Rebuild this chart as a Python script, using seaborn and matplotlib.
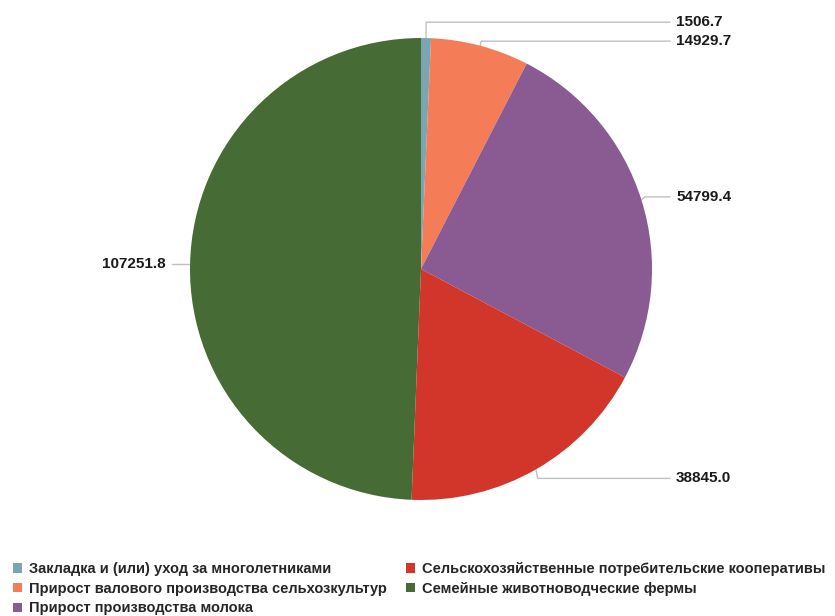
import numpy as np
import pandas as pd
import matplotlib
matplotlib.use('Agg')
import matplotlib.pyplot as plt
import seaborn as sns

categories = ['Закладка и (или) уход за многолетниками',
              'Прирост валового производства сельхозкультур',
              'Прирост производства молока',
              'Сельскохозяйственные потребительские кооперативы',
              'Семейные животноводческие фермы']
values = [1506.7, 14929.7, 54799.4, 38845.0, 107251.8]
value_labels = ['1506.7', '14929.7', '54799.4', '38845.0', '107251.8']
colors = ['#7aa6b3', '#f47c56', '#8a5a93', '#d2362b', '#476b35']

df = pd.DataFrame({'category': categories, 'value': values, 'label': value_labels})

sns.set_style('white')
plt.rcParams['font.family'] = ['Liberation Sans', 'DejaVu Sans']

fig = plt.figure(figsize=(8.35, 6.16), dpi=100)
ax = fig.add_axes([0, 0, 1, 1])

wedges, _ = ax.pie(df['value'], colors=sns.color_palette(colors), startangle=90,
                   counterclock=False, radius=1.0,
                   wedgeprops=dict(linewidth=0))

# pie centre / radius in pixels
R = 231.0
cx, cy = 421.0, 269.0
ax.set_xlim(-cx / R, (835 - cx) / R)
ax.set_ylim((cy - 616) / R, cy / R)
ax.set_aspect('equal', adjustable='datalim')
ax.axis('off')

# label positions with simple collision avoidance
mids = []
for w in wedges:
    mids.append(np.deg2rad((w.theta1 + w.theta2) / 2))
ly = [np.sin(m) * 1.045 for m in mids]
right = [i for i in range(len(mids)) if np.cos(mids[i]) >= 0]
right = sorted(right, key=lambda i: -ly[i])
gap = 0.082
for k in range(len(right) - 1, 0, -1):
    a, b = right[k - 1], right[k]
    if ly[a] - ly[b] < gap:
        d = (gap - (ly[a] - ly[b])) / 2
        ly[a] += d
        ly[b] -= d

for i, m in enumerate(mids):
    ax_, ay_ = np.cos(m), np.sin(m)
    side = 1 if ax_ >= 0 else -1
    ex = ax_ * 1.015 if abs(ay_ - ly[i]) > 0.01 else ax_
    tx = 1.078 * side
    ax.plot([ax_, ex, tx], [ay_, ly[i], ly[i]], color='#c0c0c0', lw=1, zorder=0)
    ax.text(tx + 0.026 * side, ly[i], df['label'][i], ha='left' if side > 0 else 'right',
            va='center', fontsize=11, fontweight='bold', color='#1a1a1a')

fig.legend(wedges, df['category'], ncol=2, loc='upper left',
           bbox_to_anchor=(3 / 835, 1 - 552 / 616), frameon=False,
           handlelength=0.6, handleheight=0.6, handletextpad=0.5,
           columnspacing=1.3, labelspacing=0.38, borderpad=0.2,
           prop=dict(weight='bold', size=10.5))

plt.savefig('out.png', dpi=100)
